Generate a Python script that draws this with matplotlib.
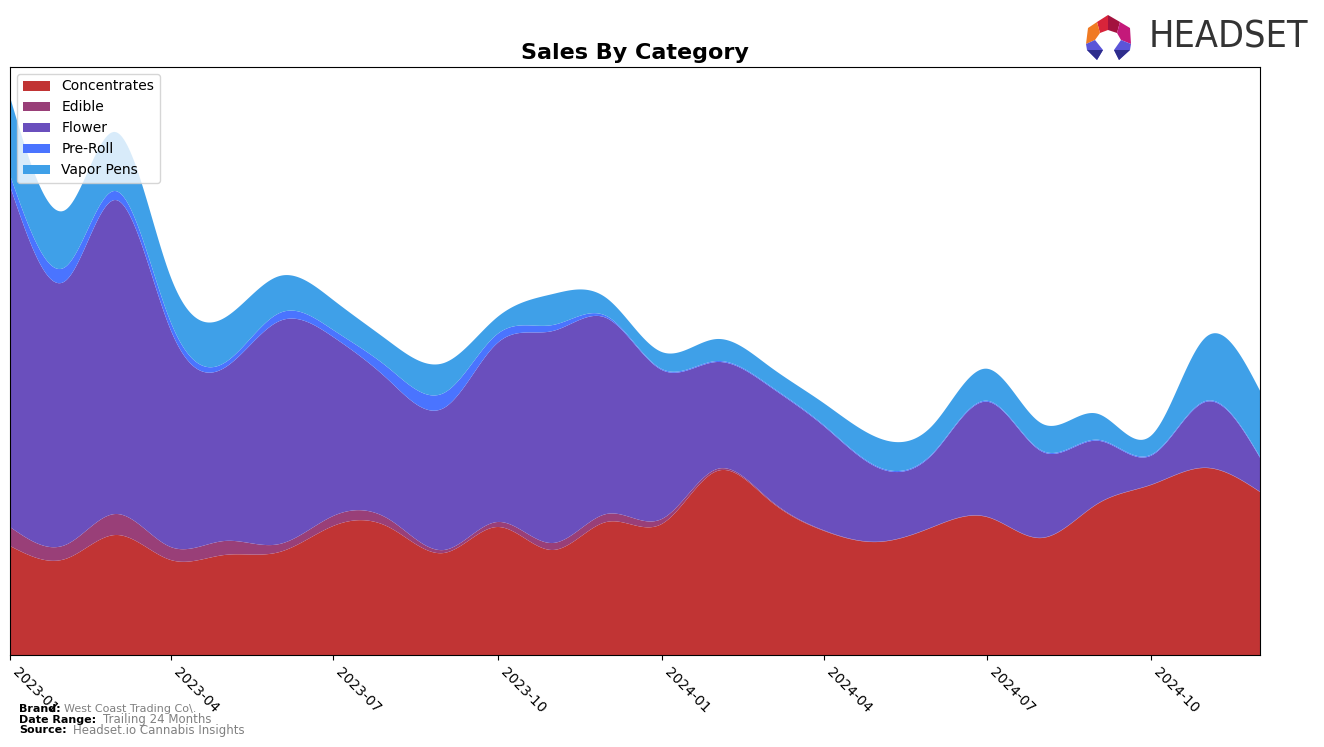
import numpy as np
import matplotlib
matplotlib.use("Agg")
import matplotlib.pyplot as plt
import matplotlib.dates as mdates
from matplotlib.patches import Polygon
from matplotlib import font_manager
import datetime as dt

# ---- data (monthly, arbitrary sales units) ----
months = ["2023-01", "2023-02", "2023-03", "2023-04", "2023-05", "2023-06",
          "2023-07", "2023-08", "2023-09", "2023-10", "2023-11", "2023-12",
          "2024-01", "2024-02", "2024-03", "2024-04", "2024-05", "2024-06",
          "2024-07", "2024-08", "2024-09", "2024-10", "2024-11", "2024-12"]
categories = ["Concentrates", "Edible", "Flower", "Pre-Roll", "Vapor Pens"]
concentrates = [109, 96, 120, 95, 100, 103, 129, 128, 102, 128, 105, 133,
                131, 184, 155, 124, 113, 128, 138, 117, 151, 170, 187, 163]
edible = [19, 14, 21, 13, 14, 8, 10, 8, 3, 5, 7, 8,
          5, 2, 1, 0.5, 0.3, 0.3, 0.3, 0.3, 0.3, 0.3, 0.3, 0.3]
flower = [341, 264, 314, 217, 173, 223, 179, 139, 142, 179, 212, 196,
          149, 107, 113, 104, 74, 73, 115, 86, 63, 29, 66, 34]
pre_roll = [11, 14, 9, 8, 5, 8, 7, 12, 15, 9, 6, 2,
            1, 1, 1, 1, 1, 1, 1, 1, 1, 1, 1, 1]
vapor_pens = [78, 57, 59, 45, 45, 37, 30, 27, 30, 17, 31, 18,
              17, 22, 19, 22, 29, 28, 32, 27, 26, 19, 64, 66]
colors = ["#C13434", "#993F78", "#6A4FBD", "#4A74FF", "#3FA0E8"]


def natural_spline(x, y, xs):
    x = np.asarray(x, float)
    y = np.asarray(y, float)
    n = len(x)
    h = np.diff(x)
    A = np.zeros((n, n))
    b = np.zeros(n)
    A[0, 0] = 1
    A[-1, -1] = 1
    for i in range(1, n - 1):
        A[i, i - 1] = h[i - 1]
        A[i, i] = 2 * (h[i - 1] + h[i])
        A[i, i + 1] = h[i]
        b[i] = 3 * ((y[i + 1] - y[i]) / h[i] - (y[i] - y[i - 1]) / h[i - 1])
    c = np.linalg.solve(A, b)
    idx = np.clip(np.searchsorted(x, xs) - 1, 0, n - 2)
    dxs = xs - x[idx]
    bb = (y[idx + 1] - y[idx]) / h[idx] - h[idx] * (2 * c[idx] + c[idx + 1]) / 3
    dd = (c[idx + 1] - c[idx]) / (3 * h[idx])
    return y[idx] + bb * dxs + c[idx] * dxs ** 2 + dd * dxs ** 3


dates = [dt.datetime.strptime(m, "%Y-%m") for m in months]
xnum = mdates.date2num(dates)
xs = np.linspace(xnum[0], xnum[-1], 800)
series = [concentrates, edible, flower, pre_roll, vapor_pens]
smooth = [np.clip(natural_spline(xnum, s, xs), 0, None) for s in series]

fig = plt.figure(figsize=(13.24, 7.47), dpi=100)
ax = fig.add_axes([10 / 1324, 92 / 747, 1250 / 1324, 588 / 747])
ax.stackplot(mdates.num2date(xs), *smooth, labels=categories, colors=colors)
ax.set_xlim(dates[0], dates[-1])
ax.set_ylim(0, 588)
ax.set_yticks([])
ax.xaxis.set_major_locator(mdates.MonthLocator(bymonth=[1, 4, 7, 10]))
ax.xaxis.set_major_formatter(mdates.DateFormatter("%Y-%m"))
for lab in ax.get_xticklabels():
    lab.set_rotation(-45)
    lab.set_ha("left")
    lab.set_va("top")
    lab.set_fontsize(10)
ax.set_title("Sales By Category", fontsize=16, fontweight="bold")
ax.legend(loc="upper left", fontsize=10)

# footer
fig.text(19 / 1324, 1 - 709 / 747, "Brand:", fontsize=8, fontweight="bold", va="center")
fig.text(64 / 1324, 1 - 709 / 747, "West Coast Trading Co\\.", fontsize=8, color="gray", va="center")
fig.text(19 / 1324, 1 - 720 / 747, "Date Range:", fontsize=8, fontweight="bold", va="center")
fig.text(103 / 1324, 1 - 719 / 747, "Trailing 24 Months", fontsize=8.5, color="gray", va="center")
fig.text(19 / 1324, 1 - 730 / 747, "Source:", fontsize=8, fontweight="bold", va="center")
fig.text(73 / 1324, 1 - 730.5 / 747, "Headset.io Cannabis Insights", fontsize=8.5, color="gray", va="center")

# logo
names = {f.name for f in font_manager.fontManager.ttflist}
if "Liberation Sans Narrow" in names:
    logo_kw = dict(family="Liberation Sans Narrow", fontsize=34)
else:
    logo_kw = dict(family="DejaVu Sans", stretch="condensed", fontsize=27)
fig.text(1308 / 1324, 1 - 38 / 747, "HEADSET", color="#333333",
         va="center", ha="right", **logo_kw)


def P(pts, color):
    fig.patches.append(Polygon([(px / 1324, 1 - py / 747) for px, py in pts], closed=True,
                               transform=fig.transFigure, facecolor=color, edgecolor="none"))


P([(1097, 22), (1108, 15), (1108, 30), (1100, 33)], "#D8243A")
P([(1108, 15), (1120, 22), (1117, 33), (1108, 30)], "#A3123E")
P([(1120, 22), (1130, 28), (1131, 44), (1121, 40), (1117, 33)], "#C4197A")
P([(1097, 22), (1100, 33), (1095, 40), (1086, 44), (1088, 28)], "#F07A22")
P([(1086, 44), (1095, 40), (1103, 50), (1097, 60), (1087, 50)], "#5B55D8")
P([(1131, 44), (1121, 40), (1114, 50), (1119, 60), (1130, 50)], "#5B55D8")
P([(1087, 50), (1097, 60), (1103, 50)], "#2E2D8C")
P([(1130, 50), (1119, 60), (1114, 50)], "#2E2D8C")

fig.savefig("out.png", dpi=100)
